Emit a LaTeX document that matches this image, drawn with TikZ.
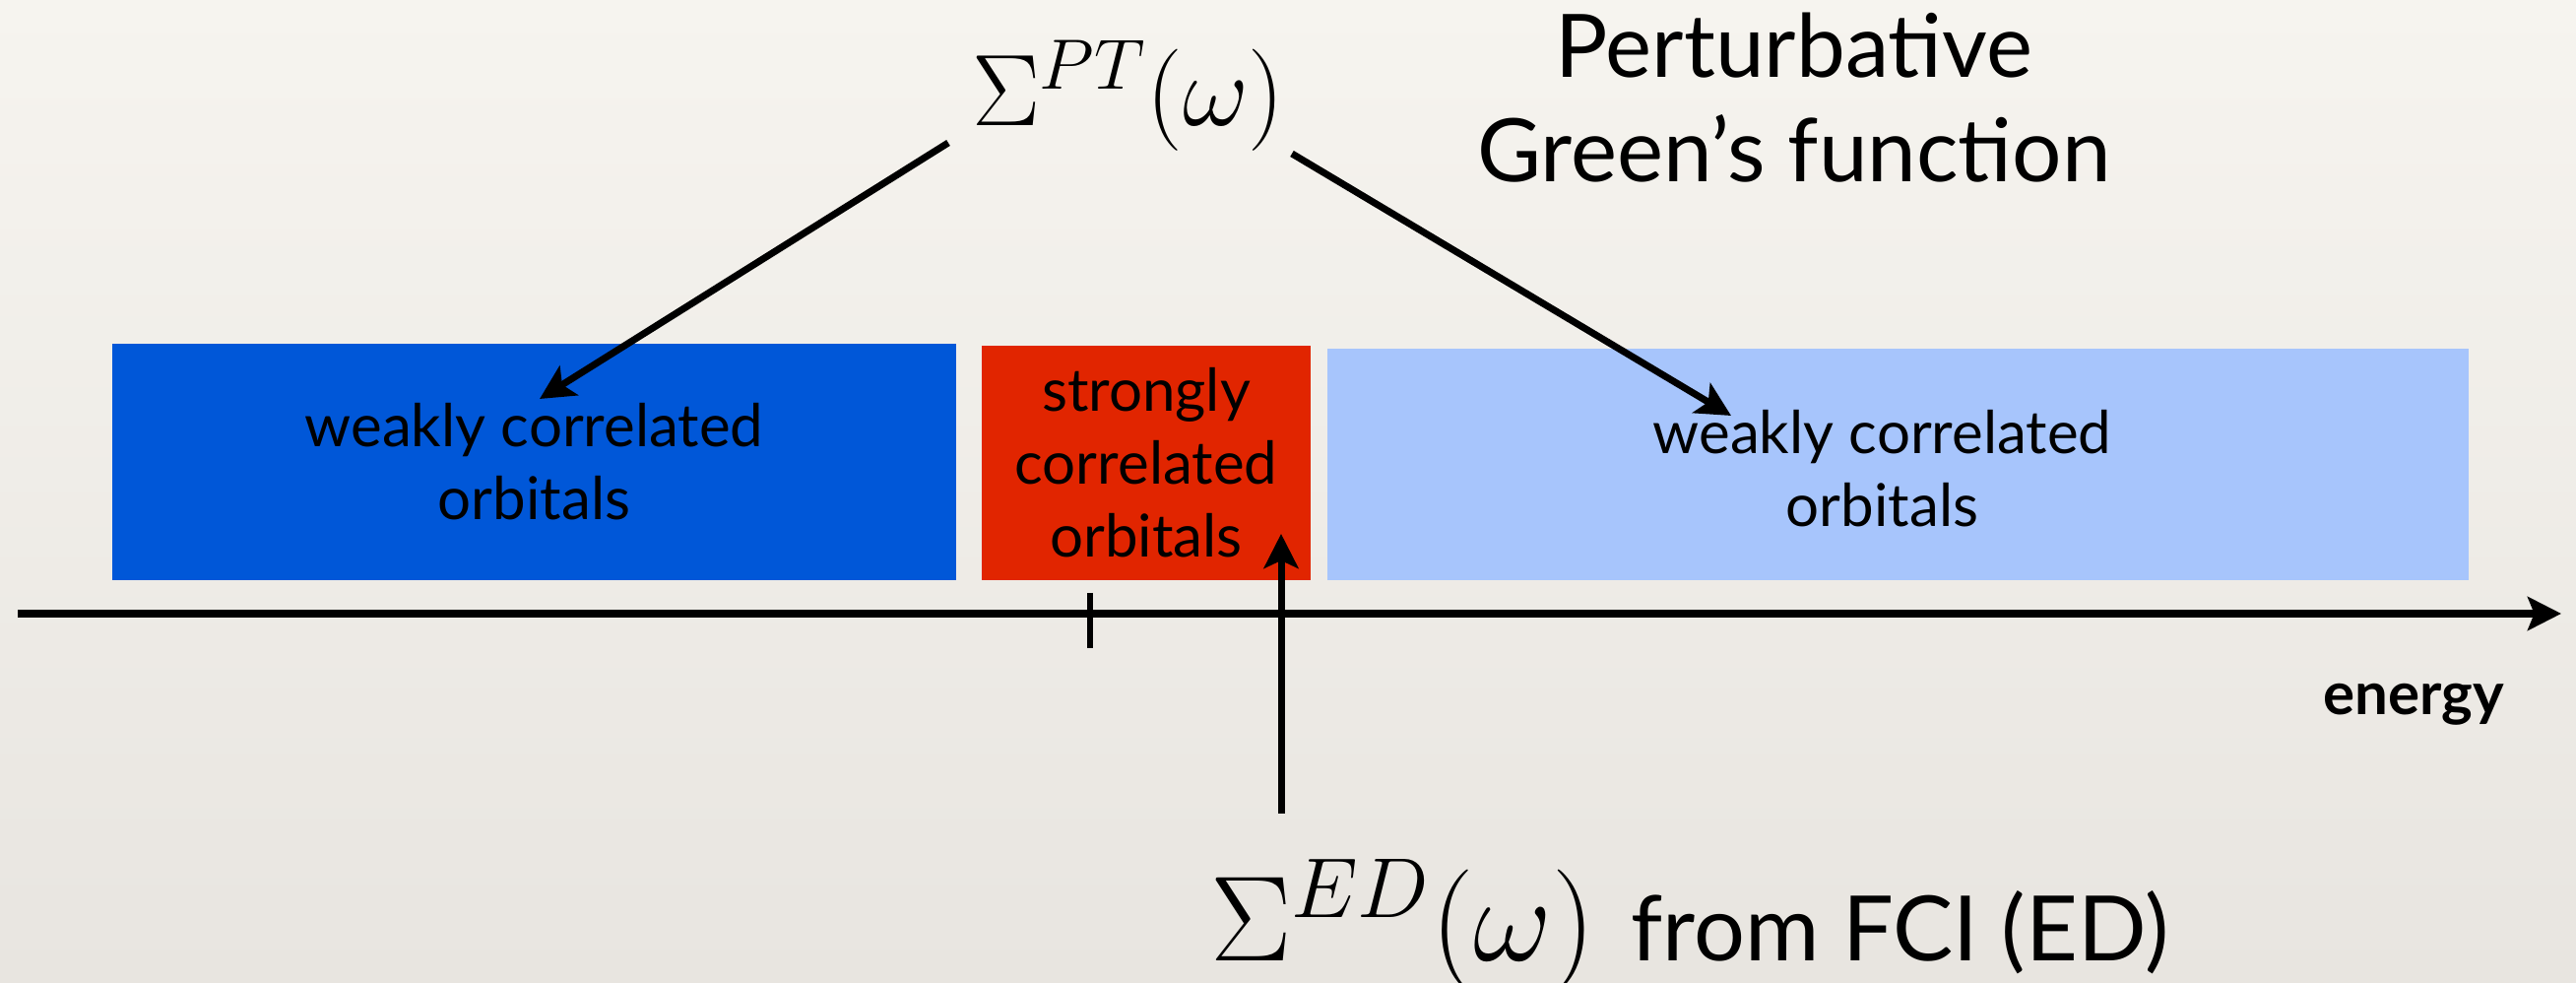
\RequirePackage{fix-cm}
\documentclass[tikz,border=0pt]{standalone}
\usepackage{fontspec}
\setmainfont{Lato}
\usetikzlibrary{arrows.meta}
\definecolor{bgtop}{RGB}{246,244,239}
\definecolor{bgbot}{RGB}{232,229,224}
\definecolor{dblue}{RGB}{0,87,216}
\definecolor{sred}{RGB}{225,37,0}
\definecolor{lblue}{RGB}{167,197,252}
\begin{document}
\begin{tikzpicture}[x=0.3pt,y=-0.3pt,
  orb/.style={inner sep=0pt, outer sep=0pt, align=center, text=black,
    font=\fontsize{18}{22.2}\selectfont},
  boxx/.style={inner sep=0pt, outer sep=0pt},
  arr/.style={line width=2.1pt, -{Stealth[length=10.5pt,width=10.5pt,inset=2.4pt]}},
  lbl/.style={inner sep=0pt, outer sep=0pt},
]
\useasboundingbox (0,0) rectangle (2616,998);
\shade[top color=bgtop, bottom color=bgbot] (0,0) rectangle (2616,998);

% boxes
\node[boxx, fill=dblue, minimum width=257.1pt, minimum height=72pt] (wl) at (542.5,469) {};
\node[boxx, fill=sred, minimum width=100.2pt, minimum height=71.4pt] (sc) at (1164,470) {};
\node[boxx, fill=lblue, minimum width=347.7pt, minimum height=70.5pt] (wr) at (1927.5,471.5) {};
\node[orb] (wlt) at (wl.center) {weakly correlated\\orbitals};
\node[orb] (sct) at (sc.center) {strongly\\correlated\\orbitals};
\node[orb] (wrt) at ([xshift=-4.8pt,yshift=-1.2pt]wr.center) {weakly correlated\\orbitals};

% axis
\coordinate (ax0) at (18,623);
\coordinate (ax1) at (2601,623);
\draw[line width=2.25pt, -{Stealth[length=10.2pt,width=10.2pt,inset=2pt]}] (ax0) -- (ax1);
\coordinate (tk0) at (1107,602);
\coordinate (tk1) at (1107,658);
\draw[line width=1.8pt] (tk0) -- (tk1);
\node[lbl, anchor=base east, font=\bfseries\fontsize{18}{20}\selectfont] (en) at (2543,726) {energy};

% labels
\node[lbl, anchor=base west, font=\fontsize{31}{32}\selectfont] (spt) at (987,128) {$\Sigma^{PT}(\omega)$};
\node[lbl, align=center, font=\fontsize{26.7}{31.8}\selectfont] (pgf) at (1822,99) {Perturbative\\Green’s function};
\node[lbl, anchor=base west] (sed) at (1229,976) {\fontsize{37}{38}\selectfont$\Sigma^{ED}(\omega)$\hspace{11pt}{\fontsize{27.5}{30}\selectfont from FCI (ED)}};

% arrows
\coordinate (a1s) at (963,145);
\coordinate (a1e) at (548,405);
\coordinate (a2s) at (1312,156);
\coordinate (a2e) at (1758,422);
\coordinate (a3s) at (1301,826);
\coordinate (a3e) at (1301,542);
\draw[arr] (a1s) -- (a1e);
\draw[arr] (a2s) -- (a2e);
\draw[arr] (a3s) -- (a3e);
\end{tikzpicture}
\end{document}
